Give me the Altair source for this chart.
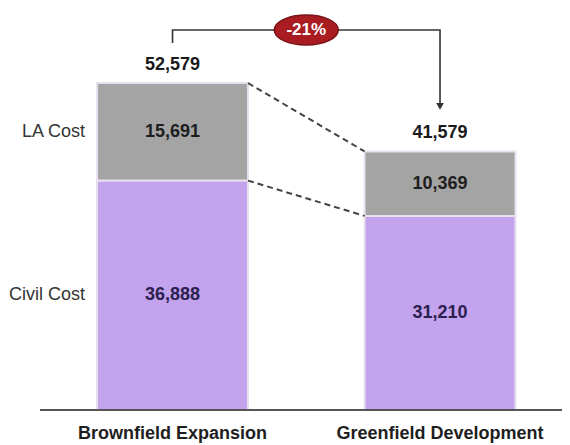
import altair as alt
import pandas as pd

# ---- data ----
categories = ["Brownfield Expansion", "Greenfield Development"]
segments = ["Civil Cost", "LA Cost"]
civil_cost = [36888, 31210]
la_cost = [15691, 10369]

# ---- styles ----
seg_colors = ["#c4a3ee", "#a4a4a4"]
FONT = "Liberation Sans, Arial, sans-serif"
W, H = 554, 402
X_MIN, X_MAX = -0.615, 1.456
Y_MAX = 64640
HALF = 0.282
UPP = Y_MAX / H  # data units per pixel

rows = []
for i, cat in enumerate(categories):
    base = 0
    for seg, vals in zip(segments, [civil_cost, la_cost]):
        v = vals[i]
        rows.append(dict(idx=i, category=cat, segment=seg, start=base, end=base + v,
                         mid=base + v / 2, label=f"{v:,}"))
        base += v
bars_df = pd.DataFrame(rows)
totals = [c + l for c, l in zip(civil_cost, la_cost)]
tot_df = pd.DataFrame(dict(idx=list(range(len(categories))), category=categories,
                           total=totals, label=[f"{t:,}" for t in totals]))

xs = alt.Scale(domain=[X_MIN, X_MAX], nice=False, zero=False)
ys = alt.Scale(domain=[0, Y_MAX], nice=False, zero=False)

bars = alt.Chart(bars_df).transform_calculate(
    x0=f"datum.idx - {HALF}", x1=f"datum.idx + {HALF}"
).mark_bar(stroke="#e6dfee", strokeWidth=2).encode(
    x=alt.X("x0:Q", scale=xs, axis=None), x2="x1:Q",
    y=alt.Y("start:Q", scale=ys, axis=None), y2="end:Q",
    color=alt.Color("segment:N", scale=alt.Scale(domain=segments, range=seg_colors), legend=None),
)

seg_labels = alt.Chart(bars_df).mark_text(font=FONT, fontSize=18, fontWeight="bold",
                                          baseline="middle").encode(
    x=alt.X("idx:Q", scale=xs, axis=None),
    y=alt.Y("mid:Q", scale=ys, axis=None),
    text="label:N",
    color=alt.condition(alt.datum.segment == "LA Cost", alt.value("#1e1e1e"), alt.value("#2b2150")),
)

row_labels = alt.Chart(bars_df).transform_filter("datum.idx == 0").transform_calculate(
    x0=f"datum.idx - {HALF}"
).mark_text(font=FONT, fontSize=18, align="right", baseline="middle", dx=-12,
            color="#333333").encode(
    x=alt.X("x0:Q", scale=xs, axis=None),
    y=alt.Y("mid:Q", scale=ys, axis=None),
    text="segment:N",
)

tot_labels = alt.Chart(tot_df).mark_text(font=FONT, fontSize=18, fontWeight="bold",
                                         baseline="middle", dy=-18, color="#1a1a1a").encode(
    x=alt.X("idx:Q", scale=xs, axis=None),
    y=alt.Y("total:Q", scale=ys, axis=None),
    text="label:N",
)

cat_labels = alt.Chart(tot_df).mark_text(font=FONT, fontSize=18, fontWeight="bold",
                                         baseline="middle", dy=24, color="#1e1e1e").encode(
    x=alt.X("idx:Q", scale=xs, axis=None),
    y=alt.Y(datum=0, scale=ys, axis=None),
    text="category:N",
)

conn_df = pd.DataFrame(dict(y_from=[totals[0], civil_cost[0]], y_to=[totals[1], civil_cost[1]]))
connectors = alt.Chart(conn_df).transform_calculate(
    xa=f"0 + {HALF}", xb=f"1 - {HALF}"
).mark_rule(strokeDash=[6, 4], color="#444444", strokeWidth=2).encode(
    x=alt.X("xa:Q", scale=xs, axis=None), x2="xb:Q",
    y=alt.Y("y_from:Q", scale=ys, axis=None), y2="y_to:Q",
)

baseline = alt.Chart(pd.DataFrame({"y": [0]})).mark_rule(color="#555555", strokeWidth=2).encode(
    y=alt.Y("y:Q", scale=ys, axis=None), x=alt.value(32), x2=alt.value(W),
)

top = totals[0] + 53 * UPP
left_start = totals[0] + 40 * UPP
tip = totals[1] + 45 * UPP
br_df = pd.DataFrame(dict(order=[0, 1, 2, 3], x=[0, 0, 1, 1], y=[left_start, top, top, tip]))
bracket = alt.Chart(br_df).mark_line(color="#333333", strokeWidth=1.6).encode(
    x=alt.X("x:Q", scale=xs, axis=None),
    y=alt.Y("y:Q", scale=ys, axis=None),
    order="order:O",
)
arrow = alt.Chart(pd.DataFrame(dict(x=[1], y=[tip]))).mark_point(
    shape="triangle-down", size=60, filled=True, color="#333333", opacity=1
).encode(x=alt.X("x:Q", scale=xs, axis=None), y=alt.Y("y:Q", scale=ys, axis=None))

pct = round((totals[1] - totals[0]) / totals[0] * 100)
ell_df = pd.DataFrame(dict(x=[0.5], y=[top], label=[f"{pct}%"]))
ellipse_path = "M -1 0 A 1 0.47 0 1 0 1 0 A 1 0.47 0 1 0 -1 0 Z"
ellipse = alt.Chart(ell_df).mark_point(
    shape=ellipse_path, size=4096, filled=True, fill="#a81c22", stroke="#7a1216",
    strokeWidth=1.5, opacity=1
).encode(x=alt.X("x:Q", scale=xs, axis=None), y=alt.Y("y:Q", scale=ys, axis=None))
ell_text = alt.Chart(ell_df).mark_text(font=FONT, fontSize=17, fontWeight="bold",
                                       color="white", baseline="middle").encode(
    x=alt.X("x:Q", scale=xs, axis=None), y=alt.Y("y:Q", scale=ys, axis=None), text="label:N",
)

chart = alt.layer(
    bars, connectors, baseline, bracket, arrow, ellipse, ell_text,
    seg_labels, row_labels, tot_labels, cat_labels,
).properties(
    width=W, height=H,
    padding={"left": 0, "top": 0, "right": 0, "bottom": 35},
    autosize=alt.AutoSizeParams(type="none"),
).configure_view(stroke=None)

chart.save("out.html", embed_options={"renderer": "svg", "actions": False})
